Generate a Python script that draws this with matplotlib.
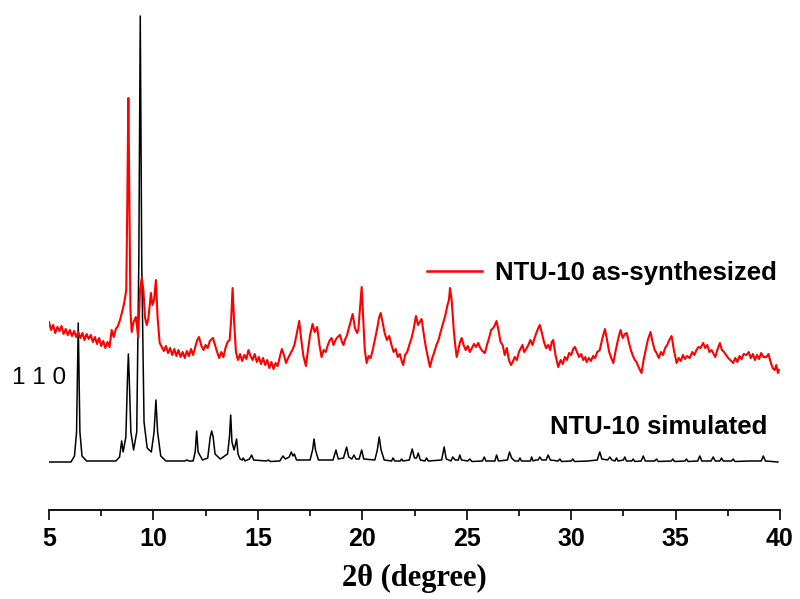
import matplotlib
matplotlib.use("Agg")
import matplotlib.pyplot as plt
from matplotlib import font_manager

# ---------------- data ----------------
# NTU-10 simulated pattern: (2theta, intensity a.u.)
sim_2theta = [5.00, 6.05, 6.22, 6.32, 6.37, 6.40, 6.43, 6.48, 6.58, 6.80,
              8.20, 8.38, 8.48, 8.55, 8.68, 8.76, 8.80, 8.84, 8.92, 9.05,
              9.20, 9.30, 9.37, 9.44, 9.55, 9.70, 9.90, 10.03, 10.12, 10.20,
              10.35, 10.60, 11.50, 11.60, 11.70, 11.90, 12.00, 12.07, 12.14, 12.35,
              12.60, 12.72, 12.79, 12.86, 12.95, 13.20, 13.55, 13.64, 13.70, 13.76,
              13.86, 13.93, 13.98, 14.05, 14.15, 14.25, 14.30, 14.38, 14.60, 14.70,
              14.80, 15.40, 15.50, 15.60, 16.05, 16.20, 16.32, 16.50, 16.60, 16.68,
              16.75, 16.85, 17.50, 17.62, 17.69, 17.76, 17.90, 18.60, 18.74, 18.85,
              19.10, 19.25, 19.35, 19.50, 19.60, 19.70, 19.85, 19.97, 20.07, 20.60,
              20.72, 20.81, 20.90, 21.05, 21.40, 21.47, 21.55, 21.82, 21.88, 21.95,
              22.25, 22.39, 22.50, 22.60, 22.68, 22.78, 23.00, 23.08, 23.16, 23.80,
              23.92, 24.02, 24.25, 24.33, 24.45, 24.60, 24.67, 24.75, 25.05, 25.15,
              25.25, 25.75, 25.84, 25.92, 26.35, 26.43, 26.52, 26.95, 27.05, 27.15,
              27.30, 27.48, 27.55, 27.62, 28.05, 28.11, 28.18, 28.30, 28.42, 28.50,
              28.60, 28.80, 28.90, 29.00, 29.38, 29.46, 29.54, 30.00, 30.08, 30.16,
              30.80, 31.25, 31.37, 31.47, 31.75, 31.85, 31.95, 32.10, 32.17, 32.25,
              32.50, 32.57, 32.65, 32.90, 32.97, 33.05, 33.35, 33.45, 33.55, 34.00,
              34.09, 34.17, 34.80, 34.87, 34.95, 35.45, 35.52, 35.60, 36.06, 36.16,
              36.26, 36.70, 36.80, 36.90, 37.12, 37.20, 37.28, 37.68, 37.76, 37.84,
              38.50, 39.10, 39.20, 39.30, 39.60, 39.90]
sim_intensity = [0, 0, 6, 30, 100, 139, 100, 30, 6, 1,
                 1, 5, 21, 10, 25, 85, 108, 85, 30, 12,
                 30, 200, 446, 200, 40, 14, 10, 30, 62, 30,
                 6, 1, 1, 2, 1, 1, 10, 31, 10, 2,
                 4, 25, 31, 25, 8, 3, 8, 25, 47, 20,
                 12, 18, 23, 8, 3, 2, 4, 1, 3, 7,
                 2, 1, 2, 0.5, 1, 6, 3, 5, 10, 6,
                 8, 2, 2, 12, 23, 12, 2, 2, 12, 3,
                 4, 15, 5, 3, 7, 3, 3, 12, 3, 2,
                 12, 25, 12, 2, 1, 4, 1, 1, 3, 1,
                 2, 13, 4, 4, 9, 2, 1, 4, 1, 2,
                 15, 3, 1, 5, 2, 2, 7, 2, 1, 3,
                 0.5, 1, 5, 1, 1, 7, 1, 2, 10, 4,
                 1, 1, 4, 1, 1, 5, 1, 2, 2, 5,
                 2, 2, 7, 2, 1, 3, 0.5, 1, 3, 0.5,
                 1, 2, 10, 3, 2, 5, 2, 1, 4, 1,
                 2, 5, 1, 1, 3, 0.5, 1, 6, 1, 1,
                 3, 0.5, 1, 3, 0.5, 1, 3, 0.5, 1, 6,
                 1, 1, 5, 1, 1, 4, 1, 1, 3, 0.5,
                 1, 1, 6, 1, 0.5, 0]

# NTU-10 as-synthesized (measured, offset) pattern
exp_2theta = [5.0, 5.1, 5.2, 5.3, 5.4, 5.5, 5.6, 5.7, 5.8, 5.9,
              6.0, 6.1, 6.2, 6.3, 6.4, 6.5, 6.6, 6.7, 6.8, 6.9,
              7.0, 7.1, 7.2, 7.3, 7.4, 7.5, 7.6, 7.7, 7.8, 7.9,
              8.0, 8.1, 8.2, 8.3, 8.4, 8.5, 8.6, 8.7, 8.75, 8.8,
              8.85, 8.9, 8.96, 9.05, 9.16, 9.27, 9.36, 9.44, 9.52, 9.6,
              9.68, 9.76, 9.83, 9.88, 9.95, 10.03, 10.12, 10.2, 10.3, 10.4,
              10.5, 10.6, 10.7, 10.8, 10.9, 11.0, 11.1, 11.2, 11.3, 11.4,
              11.5, 11.6, 11.7, 11.8, 11.9, 12.0, 12.1, 12.18, 12.3, 12.4,
              12.5, 12.6, 12.7, 12.85, 12.95, 13.05, 13.15, 13.25, 13.35, 13.45,
              13.55, 13.65, 13.72, 13.79, 13.86, 13.95, 14.05, 14.15, 14.25, 14.35,
              14.45, 14.55, 14.65, 14.75, 14.85, 14.95, 15.05, 15.15, 15.25, 15.35,
              15.45, 15.55, 15.65, 15.75, 15.85, 15.95, 16.05, 16.15, 16.25, 16.35,
              16.45, 16.55, 16.65, 16.75, 16.85, 16.98, 17.08, 17.18, 17.3, 17.4,
              17.5, 17.62, 17.72, 17.84, 17.95, 18.05, 18.15, 18.25, 18.35, 18.45,
              18.53, 18.62, 18.72, 18.82, 18.93, 19.03, 19.1, 19.17, 19.27, 19.4,
              19.54, 19.65, 19.75, 19.81, 19.9, 19.97, 20.05, 20.12, 20.21, 20.3,
              20.4, 20.5, 20.6, 20.7, 20.8, 20.88, 20.97, 21.07, 21.18, 21.29,
              21.4, 21.5, 21.6, 21.7, 21.8, 21.9, 21.96, 22.05, 22.15, 22.25,
              22.36, 22.45, 22.57, 22.67, 22.75, 22.84, 22.95, 23.05, 23.15, 23.24,
              23.35, 23.45, 23.55, 23.65, 23.75, 23.87, 23.98, 24.08, 24.15, 24.2,
              24.28, 24.38, 24.45, 24.52, 24.6, 24.68, 24.76, 24.85, 24.95, 25.05,
              25.15, 25.25, 25.35, 25.45, 25.55, 25.65, 25.75, 25.87, 25.97, 26.07,
              26.17, 26.27, 26.35, 26.43, 26.52, 26.62, 26.72, 26.82, 26.92, 27.02,
              27.12, 27.2, 27.3, 27.4, 27.5, 27.6, 27.67, 27.75, 27.85, 27.95,
              28.05, 28.15, 28.25, 28.35, 28.45, 28.5, 28.6, 28.7, 28.8, 28.9,
              29.0, 29.07, 29.14, 29.25, 29.38, 29.5, 29.6, 29.7, 29.8, 29.9,
              30.0, 30.1, 30.18, 30.28, 30.38, 30.48, 30.58, 30.68, 30.74, 30.85,
              30.95, 31.05, 31.15, 31.25, 31.37, 31.5, 31.62, 31.72, 31.82, 31.92,
              32.02, 32.12, 32.22, 32.3, 32.37, 32.47, 32.57, 32.66, 32.76, 32.86,
              32.96, 33.05, 33.13, 33.25, 33.37, 33.47, 33.57, 33.67, 33.8, 33.9,
              34.0, 34.09, 34.2, 34.3, 34.4, 34.5, 34.6, 34.7, 34.81, 34.92,
              35.05, 35.15, 35.25, 35.35, 35.45, 35.55, 35.68, 35.8, 35.9, 36.0,
              36.1, 36.2, 36.32, 36.42, 36.52, 36.62, 36.72, 36.8, 36.9, 37.0,
              37.12, 37.22, 37.32, 37.42, 37.52, 37.62, 37.76, 37.86, 37.96, 38.06,
              38.16, 38.26, 38.4, 38.5, 38.6, 38.7, 38.8, 38.9, 39.0, 39.1,
              39.2, 39.35, 39.45, 39.55, 39.65, 39.75, 39.82, 39.9, 39.95]
exp_intensity = [140, 132, 137, 129, 135, 131, 136, 128, 133, 127,
                 132, 126, 131, 125, 130, 124, 129, 122, 128, 123,
                 127, 120, 125, 118, 124, 116, 121, 114, 120, 115,
                 132, 125, 133, 136, 142, 150, 159, 172, 262, 364,
                 262, 152, 130, 140, 145, 125, 172, 184, 172, 144,
                 137, 144, 159, 169, 157, 162, 182, 144, 119, 115,
                 111, 116, 109, 114, 107, 113, 106, 112, 105, 110,
                 104, 111, 106, 113, 107, 115, 122, 125, 116, 112,
                 117, 114, 121, 124, 117, 110, 104, 110, 105, 114,
                 120, 122, 142, 174, 142, 110, 102, 108, 101, 107,
                 103, 112, 106, 102, 108, 100, 105, 98, 104, 97,
                 102, 94, 100, 93, 99, 96, 105, 113, 107, 99,
                 104, 108, 112, 117, 127, 141, 122, 106, 96, 112,
                 127, 138, 130, 135, 117, 105, 112, 110, 117, 122,
                 124, 117, 122, 125, 127, 120, 117, 122, 127, 137,
                 148, 134, 129, 132, 157, 175, 142, 112, 99, 106,
                 104, 112, 122, 132, 144, 149, 140, 129, 122, 126,
                 117, 110, 113, 105, 108, 100, 97, 107, 110, 117,
                 124, 132, 146, 137, 140, 143, 127, 114, 104, 95,
                 104, 110, 117, 122, 130, 139, 147, 157, 162, 174,
                 162, 132, 117, 105, 112, 120, 124, 117, 112, 116,
                 110, 114, 118, 115, 119, 114, 111, 109, 117, 124,
                 132, 134, 137, 141, 132, 120, 117, 107, 114, 102,
                 97, 100, 105, 102, 110, 114, 117, 110, 113, 117,
                 122, 117, 124, 130, 135, 137, 129, 120, 114, 117,
                 112, 120, 122, 107, 95, 102, 98, 105, 102, 109,
                 107, 113, 115, 110, 105, 108, 102, 105, 100, 104,
                 101, 106, 104, 110, 112, 124, 133, 122, 110, 104,
                 99, 110, 120, 127, 132, 124, 128, 129, 120, 112,
                 106, 102, 100, 94, 89, 102, 112, 122, 130, 120,
                 112, 109, 104, 110, 107, 114, 117, 122, 126, 112,
                 99, 104, 101, 107, 103, 106, 104, 110, 107, 112,
                 115, 114, 119, 114, 117, 110, 112, 109, 105, 112,
                 119, 112, 110, 107, 104, 102, 99, 104, 100, 106,
                 103, 108, 107, 110, 104, 108, 102, 107, 103, 109,
                 105, 105, 108, 100, 94, 92, 97, 89, 92]

x_ticks = [5, 10, 15, 20, 25, 30, 35, 40]
x_minor_ticks = [7.5, 12.5, 17.5, 22.5, 27.5, 32.5, 37.5]
exp_label = "NTU-10 as-synthesized"
sim_label = "NTU-10 simulated"
hkl_label = "1 1 0"
x_label = "2θ (degree)"

# ---------------- fonts ----------------
names = {f.name for f in font_manager.fontManager.ttflist}
narrow = "Liberation Sans Narrow" if "Liberation Sans Narrow" in names else "Liberation Sans"

# ---------------- figure ----------------
W, H = 800, 599
fig = plt.figure(figsize=(W / 100, H / 100), dpi=100)
ax = fig.add_axes([49 / W, 1 - 510 / H, (780 - 49) / W, 510 / H])

ax.plot(sim_2theta, sim_intensity, color="black", lw=1.1, solid_joinstyle="round")
red_line, = ax.plot(exp_2theta, exp_intensity, color="#ff0000", lw=1.5,
                    solid_joinstyle="round")

ax.set_xlim(5, 40)
ax.set_ylim(-48, 462)
for s in ("left", "right", "top"):
    ax.spines[s].set_visible(False)
ax.spines["bottom"].set_linewidth(1.3)
ax.set_yticks([])
ax.set_xticks(x_ticks)
ax.set_xticks(x_minor_ticks, minor=True)
ax.tick_params(axis="x", which="major", direction="out", length=7.5, width=1.2, pad=5)
ax.tick_params(axis="x", which="minor", direction="out", length=4, width=1.2)
for lab in ax.get_xticklabels():
    lab.set_fontfamily(narrow)
    lab.set_fontweight("bold")
    lab.set_fontsize(18)

ax.set_xlabel(x_label, fontfamily="Liberation Serif", fontweight="bold",
              fontsize=22, labelpad=9)

leg = ax.legend([red_line], [exp_label], loc="center left",
                bbox_to_anchor=(427 / W, 1 - 273 / H), bbox_transform=fig.transFigure,
                frameon=False, borderpad=0, borderaxespad=0, handlelength=2.15,
                handletextpad=0.5,
                prop={"family": "Liberation Sans", "weight": "bold", "size": 18.5})
for h in leg.legend_handles:
    h.set_linewidth(1.8)

fig.text(550 / W, 1 - 427 / H, sim_label, fontfamily="Liberation Sans",
         fontweight="bold", fontsize=18.5, va="center", ha="left")
fig.text(12 / W, 1 - 378 / H, hkl_label, fontfamily="Liberation Sans",
         fontsize=17.5, va="center", ha="left")

fig.savefig("out.png", dpi=100)
